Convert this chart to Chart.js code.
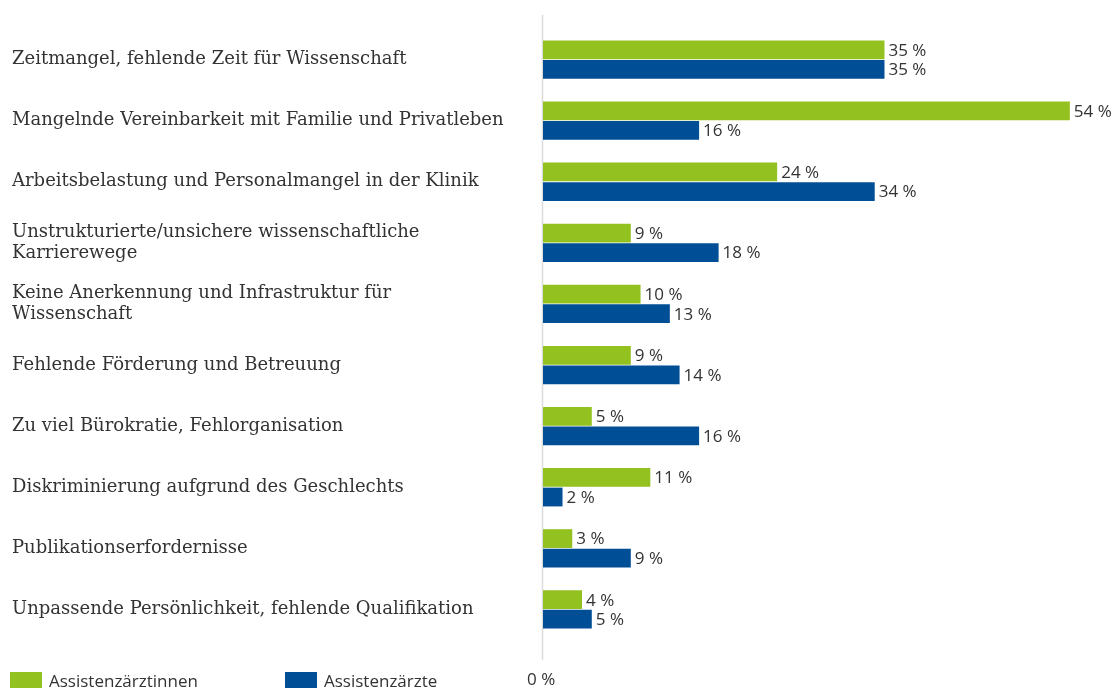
<!DOCTYPE html>
<html>
<head>
<meta charset="utf-8">
<script src="https://cdn.jsdelivr.net/npm/chart.js@4"></script>
<style>
  body { margin: 0; background: #fff; }
  canvas { display: block; }
</style>
</head>
<body>
<canvas id="myChart" width="1111" height="690"></canvas>
<script>
const categories = [
	'Zeitmangel, fehlende Zeit für Wissenschaft',
	'Mangelnde Vereinbarkeit mit Familie und Privatleben',
	'Arbeitsbelastung und Personalmangel in der Klinik',
	['Unstrukturierte/unsichere wissenschaftliche', 'Karrierewege'],
	['Keine Anerkennung und Infrastruktur für', 'Wissenschaft'],
	'Fehlende Förderung und Betreuung',
	'Zu viel Bürokratie, Fehlorganisation',
	'Diskriminierung aufgrund des Geschlechts',
	'Publikationserfordernisse',
	'Unpassende Persönlichkeit, fehlende Qualifikation'
];
const seriesNames = ['Assistenzärztinnen', 'Assistenzärzte'];
const womenValues = [35, 54, 24, 9, 10, 9, 5, 11, 3, 4];
const menValues = [35, 16, 34, 18, 13, 14, 16, 2, 9, 5];
const zeroTickLabel = '0 %';

const green = '#93c11f';
const blue = '#004e95';
const textColor = '#333333';

// value labels at the end of each bar
const valueLabels = {
	id: 'valueLabels',
	afterDatasetsDraw(chart) {
		const ctx = chart.ctx;
		ctx.save();
		ctx.font = '17px "Open Sans"';
		ctx.fillStyle = textColor;
		ctx.textAlign = 'left';
		ctx.textBaseline = 'middle';
		chart.data.datasets.forEach(function (ds, i) {
			const meta = chart.getDatasetMeta(i);
			meta.data.forEach(function (bar, j) {
				ctx.fillText(ds.data[j] + ' %', bar.x + 4, bar.y + 1);
			});
		});
		ctx.restore();
	}
};

// vertical zero line, "0 %" label and the legend underneath
const axisAndLegend = {
	id: 'axisAndLegend',
	beforeDatasetsDraw(chart) {
		const ctx = chart.ctx;
		const x0 = chart.scales.x.getPixelForValue(0);
		ctx.save();
		ctx.strokeStyle = '#dcdcdc';
		ctx.lineWidth = 1.5;
		ctx.beginPath();
		ctx.moveTo(x0 - 0.5, 15);
		ctx.lineTo(x0 - 0.5, 660);
		ctx.stroke();
		ctx.restore();
	},
	afterDraw(chart) {
		const ctx = chart.ctx;
		const x0 = chart.scales.x.getPixelForValue(0);
		ctx.save();
		ctx.font = '17px "Open Sans"';
		ctx.fillStyle = textColor;
		ctx.textBaseline = 'middle';
		ctx.textAlign = 'left';
		ctx.fillText(zeroTickLabel, x0 - 16, 680);

		const starts = [10, 285];
		chart.data.datasets.forEach(function (ds, i) {
			const x = starts[i];
			ctx.fillStyle = ds.backgroundColor;
			ctx.fillRect(x, 672, 32, 16);
			ctx.fillStyle = textColor;
			ctx.fillText(ds.label, x + 39, 682);
		});
		ctx.restore();
	}
};

const myChart = new Chart(document.getElementById('myChart'), {
	type: 'bar',
	data: {
		labels: categories,
		datasets: [
			{ label: seriesNames[0], data: womenValues, backgroundColor: green },
			{ label: seriesNames[1], data: menValues, backgroundColor: blue }
		]
	},
	options: {
		indexAxis: 'y',
		responsive: false,
		animation: false,
		categoryPercentage: 0.64,
		barPercentage: 0.96,
		layout: { padding: { left: 12, right: 7, top: 29, bottom: 50 } },
		scales: {
			x: {
				display: false,
				min: 0,
				max: 57.5
			},
			y: {
				grid: { display: false },
				border: { display: false },
				afterFit(scale) { scale.width = 531; },
				ticks: {
					crossAlign: 'far',
					color: textColor,
					font: { family: '"DejaVu Serif"', size: 18, lineHeight: 1.2 }
				}
			}
		},
		plugins: {
			legend: { display: false },
			tooltip: { enabled: false }
		}
	},
	plugins: [valueLabels, axisAndLegend]
});
</script>
</body>
</html>
